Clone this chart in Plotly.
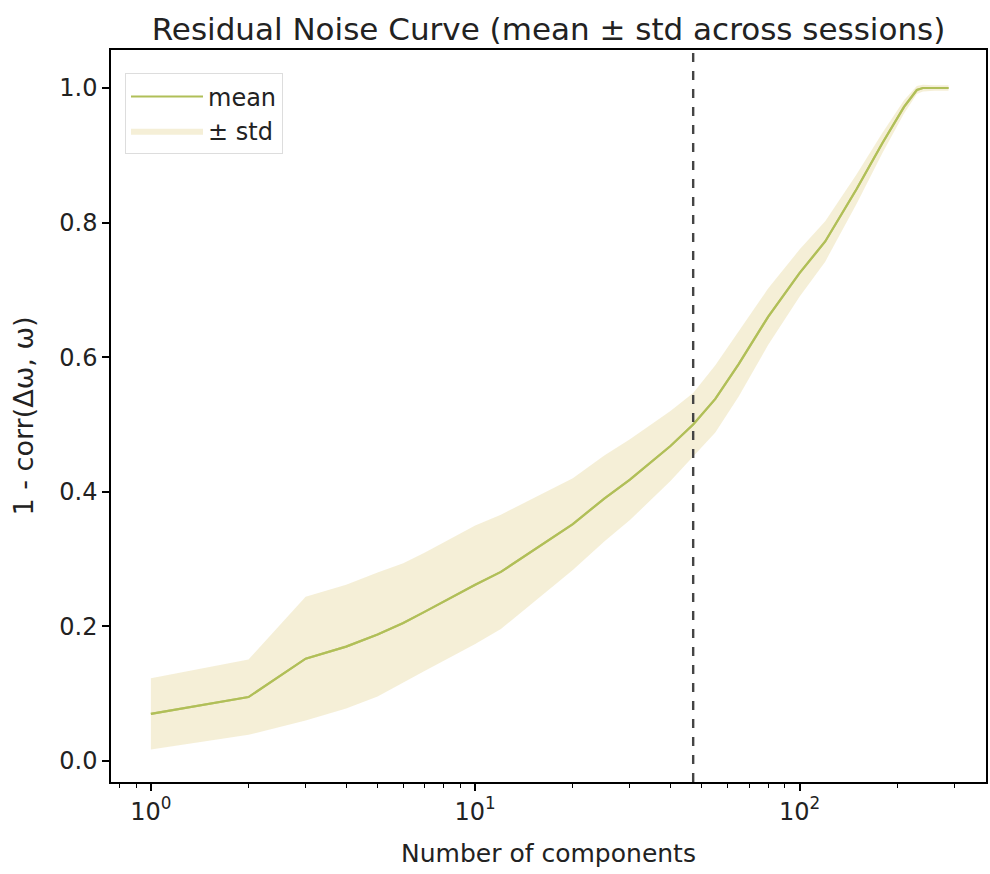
import plotly.graph_objects as go

# Data
n_components = [1, 2, 3, 4, 5, 6, 7, 8, 10, 12, 15, 20, 25, 30, 40, 47, 55, 65, 80,
                100, 120, 150, 180, 210, 230, 240, 260, 288]
mean_vals = [0.070, 0.095, 0.152, 0.170, 0.188, 0.205, 0.222, 0.237, 0.262, 0.281,
             0.312, 0.352, 0.390, 0.418, 0.468, 0.500, 0.538, 0.590, 0.660,
             0.725, 0.772, 0.850, 0.918, 0.972, 0.997, 1.000, 1.000, 1.000]
std_vals = [0.053, 0.056, 0.092, 0.092, 0.092, 0.089, 0.088, 0.088, 0.088, 0.085,
            0.078, 0.068, 0.064, 0.060, 0.052, 0.047, 0.050, 0.048, 0.042,
            0.035, 0.030, 0.022, 0.015, 0.010, 0.006, 0.005, 0.004, 0.004]
cutoff = 47

upper = [m + s for m, s in zip(mean_vals, std_vals)]
lower = [m - s for m, s in zip(mean_vals, std_vals)]

line_color = "#b0bf58"
fill_color = "rgba(232, 218, 160, 0.42)"
font_family = "DejaVu Sans"

fig = go.Figure()
fig.add_trace(go.Scatter(x=n_components, y=mean_vals, mode="lines",
                         line=dict(color=line_color, width=2.2), name="mean"))
fig.add_trace(go.Scatter(x=n_components, y=upper, mode="lines", line=dict(width=0),
                         showlegend=False, hoverinfo="skip"))
fig.add_trace(go.Scatter(x=n_components, y=lower, mode="lines", line=dict(width=0),
                         fill="tonexty", fillcolor=fill_color, name="± std"))
# redraw mean on top of the band
fig.add_trace(go.Scatter(x=n_components, y=mean_vals, mode="lines",
                         line=dict(color=line_color, width=2.2), showlegend=False,
                         hoverinfo="skip"))

fig.add_shape(type="line", x0=cutoff, x1=cutoff, y0=0, y1=1, xref="x", yref="paper",
              line=dict(color="#444444", width=2.4, dash="dash"))

minor_vals = [m * d for d in (0.1, 1, 10, 100) for m in range(2, 10)]

fig.update_layout(
    width=990, height=874,
    margin=dict(l=111, r=2, t=50, b=92),
    plot_bgcolor="white", paper_bgcolor="white",
    font=dict(family=font_family, color="#222222", size=24),
    title=dict(text="Residual Noise Curve (mean ± std across sessions)",
               x=0.5, xref="paper", xanchor="center", y=1 - 29 / 874, yanchor="middle",
               yref="container", font=dict(size=31, color="#222222")),
    legend=dict(x=0.016, y=0.968, xanchor="left", yanchor="top", traceorder="normal",
                bgcolor="rgba(255,255,255,0.8)", bordercolor="#dddddd", borderwidth=1,
                font=dict(size=24), itemwidth=72, tracegroupgap=0),
    showlegend=True,
)

fig.update_xaxes(
    type="log", range=[-0.123, 2.575],
    tickvals=[1, 10, 100], ticktext=["10<sup>0</sup>", "10<sup>1</sup>", "10<sup>2</sup>"],
    ticks="outside", ticklen=7, tickwidth=1.5, tickcolor="black",
    showline=True, linecolor="black", linewidth=1.5, mirror=True,
    showgrid=False, zeroline=False,
    tickfont=dict(size=24),
    minor=dict(tickvals=minor_vals, ticks="outside", ticklen=4, tickwidth=1,
               tickcolor="black", showgrid=False),
    title=dict(text="Number of components", font=dict(size=25), standoff=20),
)
fig.update_yaxes(
    range=[-0.0312, 1.0565],
    tickvals=[0.0, 0.2, 0.4, 0.6, 0.8, 1.0],
    ticktext=["0.0", "0.2", "0.4", "0.6", "0.8", "1.0"],
    ticks="outside", ticklen=7, tickwidth=1.5, tickcolor="black",
    showline=True, linecolor="black", linewidth=1.5, mirror=True,
    showgrid=False, zeroline=False,
    tickfont=dict(size=24),
    title=dict(text="1 - corr(Δω, ω)", font=dict(size=27), standoff=18),
)

fig.write_html("out.html")
